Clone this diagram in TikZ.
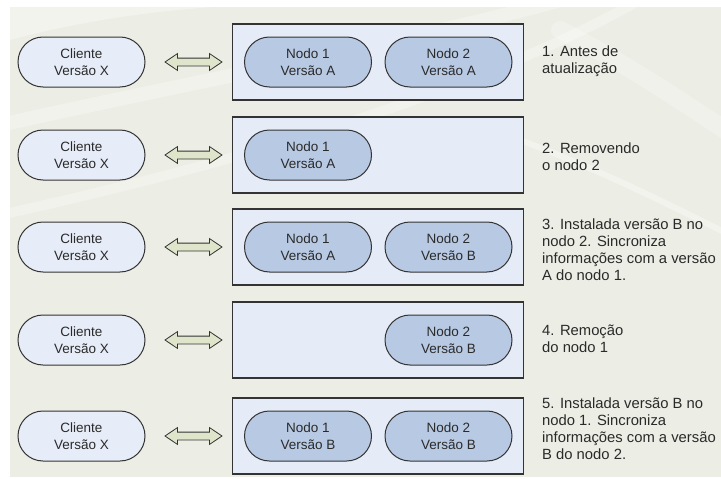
\documentclass[tikz,border=0pt]{standalone}
\usepackage{fontspec}
\setmainfont{Liberation Sans}
\usetikzlibrary{shapes.arrows}

\definecolor{panel}{HTML}{ECEDE4}
\definecolor{clientfill}{HTML}{E7EDF8}
\definecolor{nodefill}{HTML}{B8C9E3}
\definecolor{boxfill}{HTML}{E6ECF7}
\definecolor{edge}{HTML}{333333}
\definecolor{arrowfill}{HTML}{DFE5CB}
\definecolor{ink}{HTML}{2A2A2A}

\tikzset{
  pill/.style={rectangle, rounded corners=25pt, draw=edge, line width=1pt,
    minimum width=127pt, minimum height=50pt, inner sep=0pt, align=center,
    text=ink, font=\fontsize{13.5}{17}\selectfont},
  client/.style={pill, fill=clientfill},
  server/.style={pill, fill=nodefill},
  stage/.style={rectangle, draw=edge, line width=1.3pt, fill=boxfill,
    minimum width=291pt, minimum height=76pt, inner sep=0pt},
  link/.style={double arrow, draw=edge, fill=arrowfill, line width=0.8pt,
    minimum height=57pt, inner sep=3.5pt, double arrow head extend=4.5pt,
    double arrow tip angle=68},
  caption/.style={anchor=west, align=left, inner sep=0pt, text=ink,
    font=\fontsize{14.8}{17}\selectfont},
  swoosh/.style={white, line cap=round}
}

\begin{document}
\begin{tikzpicture}[x=1pt, y=-1pt]
  \useasboundingbox (0,0) rectangle (721,479);
  \fill[white] (0,0) rectangle (721,479);

  % textured backdrop with soft light sweeps
  \begin{scope}
    \clip (10,7) rectangle (721,477);
    \fill[panel] (10,7) rectangle (721,477);
    \fill[white, opacity=0.35] (10,40) .. controls (120,10) and (250,0) .. (330,7)
      -- (10,7) -- cycle;
    \draw[swoosh, line width=14pt, opacity=0.3] (0,125) .. controls (200,80) and (420,40) .. (560,0);
    \draw[swoosh, line width=10pt, opacity=0.28] (0,215) .. controls (250,160) and (480,90) .. (640,0);
    \draw[swoosh, line width=6pt, opacity=0.35] (520,140) .. controls (600,170) and (660,200) .. (740,240);
    \draw[swoosh, line width=18pt, opacity=0.25] (560,30) .. controls (620,60) and (680,100) .. (740,140);
  \end{scope}

  % stage 1
  \node[client] (c1) at (81.5,62) {Cliente\\Versão X};
  \node[stage] (s1) at (378,62) {};
  \node[server] (s1n1) at (308,62) {Nodo 1\\Versão A};
  \node[server] (s1n2) at (448.5,62) {Nodo 2\\Versão A};
  \node[link] (a1) at (193.5,62) {};
  \node[caption] (t1) at (542,61) {1. Antes de\\atualização};

  % stage 2
  \node[client] (c2) at (81.5,155) {Cliente\\Versão X};
  \node[stage] (s2) at (378,155) {};
  \node[server] (s2n1) at (308,155) {Nodo 1\\Versão A};
  \node[link] (a2) at (193.5,155) {};
  \node[caption] (t2) at (542,157) {2. Removendo\\o nodo 2};

  % stage 3
  \node[client] (c3) at (81.5,247) {Cliente\\Versão X};
  \node[stage] (s3) at (378,247) {};
  \node[server] (s3n1) at (308,247) {Nodo 1\\Versão A};
  \node[server] (s3n2) at (448.5,247) {Nodo 2\\Versão B};
  \node[link] (a3) at (193.5,247) {};
  \node[caption] (t3) at (542,250) {3. Instalada versão B no\\nodo 2. Sincroniza\\informações com a versão\\A do nodo 1.};

  % stage 4
  \node[client] (c4) at (81.5,340) {Cliente\\Versão X};
  \node[stage] (s4) at (378,340) {};
  \node[server] (s4n2) at (448.5,340) {Nodo 2\\Versão B};
  \node[link] (a4) at (193.5,340) {};
  \node[caption] (t4) at (542,339) {4. Remoção\\do nodo 1};

  % stage 5
  \node[client] (c5) at (81.5,436) {Cliente\\Versão X};
  \node[stage] (s5) at (378,436) {};
  \node[server] (s5n1) at (308,436) {Nodo 1\\Versão B};
  \node[server] (s5n2) at (448.5,436) {Nodo 2\\Versão B};
  \node[link] (a5) at (193.5,436) {};
  \node[caption] (t5) at (542,429) {5. Instalada versão B no\\nodo 1. Sincroniza\\informações com a versão\\B do nodo 2.};
\end{tikzpicture}
\end{document}
